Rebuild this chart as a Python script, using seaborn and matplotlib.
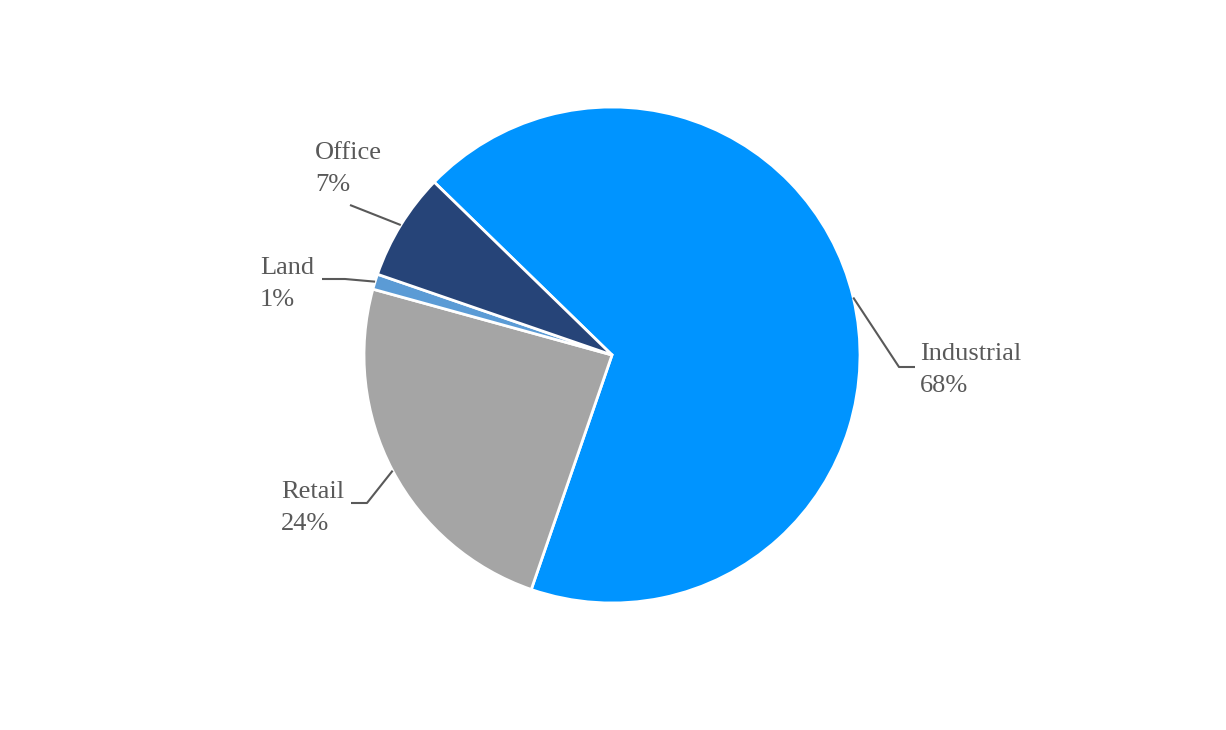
import numpy as np
import seaborn as sns
import matplotlib.pyplot as plt

categories = ["Industrial", "Retail", "Land", "Office"]
shares = [68, 24, 1, 7]
colors = ["#0094FF", "#A5A5A5", "#5B9BD5", "#264478"]

sns.set_theme(style="white")
plt.rcParams['font.family'] = ['Liberation Serif', 'DejaVu Serif']

W, H = 1226, 730
fig = plt.figure(figsize=(W / 100, H / 100), dpi=100)
ax = fig.add_axes([0, 0, 1, 1])

cx, cy, r = 612, H - 355, 248
wedges, _ = ax.pie(shares, colors=colors, startangle=135.8, counterclock=False,
                   center=(cx, cy), radius=r,
                   wedgeprops=dict(edgecolor="white", linewidth=2))
ax.set_xlim(0, W)
ax.set_ylim(0, H)
ax.set_aspect("equal")
ax.axis("off")

# leader line path (after the start on the rim) and text anchor, in pixels from top-left
layout = {
    "Industrial": ([(899, 367), (915, 367)], (920, 370)),
    "Retail": ([(367, 503), (351, 503)], (281, 508)),
    "Land": ([(345, 279), (322, 279)], (260, 284)),
    "Office": ([(350, 205)], (315, 169)),
}

grey = "#595959"
for w, name, v in zip(wedges, categories, shares):
    mid = np.deg2rad((w.theta1 + w.theta2) / 2)
    x0 = cx + r * np.cos(mid)
    y0 = cy + r * np.sin(mid)
    pts, (tx, ty) = layout[name]
    xs = [x0] + [p[0] for p in pts]
    ys = [y0] + [H - p[1] for p in pts]
    ax.plot(xs, ys, color=grey, linewidth=1.5, solid_capstyle="butt")
    ax.text(tx, H - ty, f"{name}\n{v:.0f}%", ha="left", va="center",
            fontsize=19, color=grey, linespacing=1.55)

fig.savefig("out.png", dpi=100)
